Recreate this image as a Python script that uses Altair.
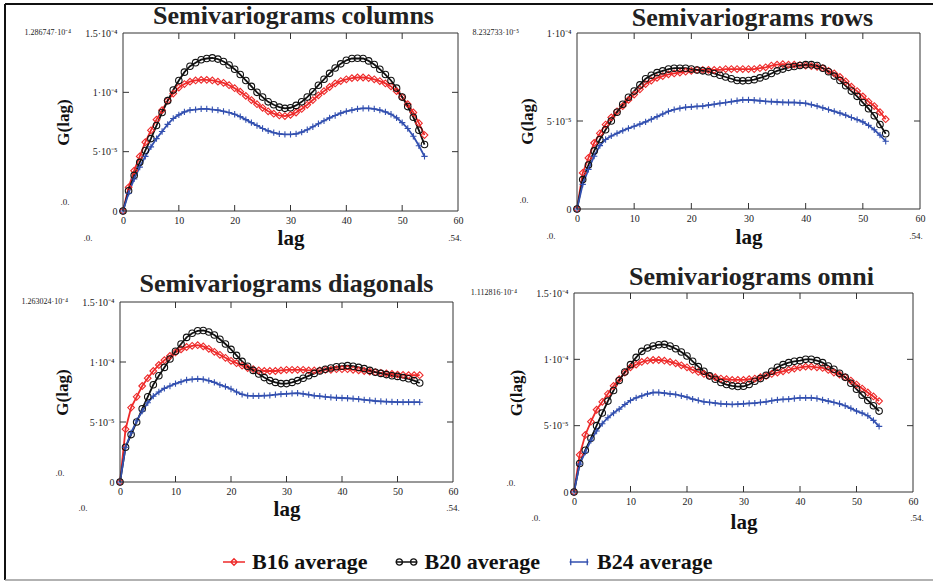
import altair as alt
import pandas as pd

SERIF = "Liberation Serif"
SERIES = ["B16 average", "B20 average", "B24 average"]
COLORS = ["#ee2a2a", "#111111", "#3350b0"]
LAGS = list(range(55))
X_LABEL_TICKS = [0, 10, 20, 30, 40, 50, 60]
X_INNER_TICKS = [10, 20, 30, 40, 50]

# values in units of 1e-5
COL_B16 = [0, 2.0, 3.4, 4.6, 5.8, 6.8, 7.7, 8.5, 9.3, 9.9, 10.4, 10.7, 10.9, 11.0, 11.05, 11.05, 11.0, 10.9, 10.8, 10.6,
           10.35, 10.05, 9.7, 9.35, 9.0, 8.7, 8.4, 8.2, 8.05, 8.0, 8.1, 8.3, 8.6, 8.95, 9.35, 9.75, 10.1, 10.45, 10.75, 10.95,
           11.1, 11.2, 11.25, 11.25, 11.2, 11.1, 10.95, 10.75, 10.5, 10.1, 9.6, 9.0, 8.3, 7.4, 6.4]
COL_B20 = [0, 1.7, 3.0, 4.1, 5.1, 6.1, 7.2, 8.3, 9.3, 10.2, 11.0, 11.7, 12.2, 12.5, 12.75, 12.85, 12.9, 12.8, 12.6, 12.3,
           11.95, 11.5, 11.0, 10.5, 10.0, 9.6, 9.2, 8.95, 8.75, 8.65, 8.7, 8.9, 9.2, 9.6, 10.05, 10.6, 11.1, 11.6, 12.05, 12.4,
           12.7, 12.85, 12.87, 12.85, 12.65, 12.35, 11.95, 11.5, 11.0, 10.35, 9.6, 8.8, 7.9, 6.8, 5.6]
COL_B24 = [0, 1.5, 2.7, 3.7, 4.6, 5.4, 6.1, 6.7, 7.3, 7.8, 8.1, 8.35, 8.5, 8.55, 8.6, 8.6, 8.55, 8.5, 8.4, 8.3,
           8.15, 7.95, 7.7, 7.45, 7.2, 6.95, 6.75, 6.6, 6.5, 6.45, 6.45, 6.5, 6.65, 6.85, 7.1, 7.35, 7.6, 7.85, 8.05, 8.25,
           8.4, 8.5, 8.6, 8.65, 8.65, 8.6, 8.5, 8.35, 8.15, 7.85, 7.45, 6.95, 6.3, 5.5, 4.6]

ROW_B16 = [0, 2.05, 2.9, 3.75, 4.3, 4.8, 5.2, 5.55, 5.85, 6.2, 6.5, 6.8, 7.1, 7.3, 7.45, 7.55, 7.65, 7.7, 7.75, 7.8,
           7.85, 7.9, 7.9, 7.9, 7.9, 7.9, 7.95, 7.95, 7.95, 7.95, 7.95, 7.95, 8.0, 8.05, 8.15, 8.2, 8.23, 8.2, 8.2, 8.18,
           8.15, 8.12, 8.08, 8.0, 7.85, 7.7, 7.5, 7.25, 6.95, 6.7, 6.4, 6.1, 5.85, 5.5, 5.1]
ROW_B20 = [0, 1.67, 2.5, 3.3, 3.95, 4.5, 5.0, 5.5, 5.95, 6.35, 6.7, 7.05, 7.4, 7.6, 7.75, 7.85, 7.95, 8.0, 8.0, 8.0,
           7.95, 7.9, 7.85, 7.8, 7.7, 7.6, 7.5, 7.4, 7.3, 7.28, 7.3, 7.35, 7.45, 7.55, 7.7, 7.85, 7.95, 8.05, 8.1, 8.15,
           8.2, 8.2, 8.15, 8.0, 7.8, 7.55, 7.3, 7.0, 6.7, 6.4, 6.05, 5.7, 5.3, 4.8, 4.28]
ROW_B24 = [0, 1.4, 2.25, 3.0, 3.6, 3.95, 4.15, 4.3, 4.45, 4.58, 4.7, 4.82, 4.95, 5.1, 5.25, 5.4, 5.55, 5.65, 5.72, 5.78,
           5.8, 5.83, 5.85, 5.9, 5.95, 6.0, 6.05, 6.1, 6.15, 6.2, 6.2, 6.18, 6.15, 6.12, 6.1, 6.08, 6.06, 6.05, 6.05, 6.03,
           6.0, 5.93, 5.85, 5.75, 5.65, 5.55, 5.45, 5.33, 5.2, 5.08, 4.95, 4.75, 4.5, 4.2, 3.85]

DIA_B16 = [0, 4.4, 6.2, 7.1, 8.0, 8.65, 9.25, 9.75, 10.15, 10.5, 10.8, 11.05, 11.25, 11.35, 11.4, 11.3, 11.1, 10.85, 10.6, 10.35,
           10.1, 9.9, 9.7, 9.5, 9.4, 9.3, 9.25, 9.25, 9.25, 9.3, 9.35, 9.35, 9.35, 9.35, 9.3, 9.3, 9.3, 9.35, 9.35, 9.4,
           9.4, 9.4, 9.35, 9.3, 9.25, 9.2, 9.15, 9.1, 9.05, 9.0, 8.95, 8.92, 8.9, 8.9, 8.9]
DIA_B20 = [0, 2.9, 3.95, 5.0, 6.1, 7.1, 8.1, 8.85, 9.55, 10.25, 10.9, 11.5, 12.05, 12.4, 12.6, 12.63, 12.5, 12.25, 11.9, 11.5,
           11.05, 10.55, 10.05, 9.65, 9.3, 9.0, 8.7, 8.45, 8.3, 8.2, 8.2, 8.3, 8.45, 8.65, 8.85, 9.05, 9.25, 9.4, 9.5, 9.6,
           9.65, 9.7, 9.65, 9.55, 9.45, 9.3, 9.15, 9.05, 8.95, 8.85, 8.8, 8.7, 8.6, 8.45, 8.25]
DIA_B24 = [0, 2.9, 4.1, 5.1, 5.9, 6.6, 7.15, 7.5, 7.8, 8.0, 8.2, 8.35, 8.5, 8.55, 8.6, 8.55, 8.45, 8.3, 8.1, 7.95,
           7.75, 7.5, 7.3, 7.2, 7.18, 7.18, 7.2, 7.22, 7.28, 7.32, 7.35, 7.38, 7.4, 7.35, 7.28, 7.2, 7.15, 7.1, 7.05, 7.02,
           7.0, 6.98, 6.95, 6.9, 6.85, 6.8, 6.75, 6.72, 6.7, 6.68, 6.66, 6.65, 6.65, 6.65, 6.65]

OMN_B16 = [0, 2.8, 4.3, 5.3, 6.2, 6.8, 7.4, 8.0, 8.5, 9.0, 9.4, 9.6, 9.8, 9.9, 9.95, 9.95, 9.9, 9.8, 9.7, 9.55,
           9.4, 9.2, 9.05, 8.9, 8.75, 8.65, 8.55, 8.5, 8.45, 8.45, 8.45, 8.5, 8.55, 8.65, 8.75, 8.9, 9.0, 9.1, 9.2, 9.3,
           9.4, 9.45, 9.45, 9.4, 9.35, 9.2, 9.0, 8.85, 8.65, 8.4, 8.1, 7.8, 7.5, 7.2, 6.85]
OMN_B20 = [0, 2.15, 3.15, 4.05, 5.0, 5.95, 6.85, 7.65, 8.4, 9.05, 9.6, 10.15, 10.6, 10.85, 11.0, 11.1, 11.13, 11.0, 10.8, 10.55,
           10.25, 9.85, 9.45, 9.1, 8.75, 8.5, 8.25, 8.1, 8.0, 7.95, 7.97, 8.1, 8.35, 8.55, 8.8, 9.1, 9.4, 9.6, 9.75, 9.85,
           9.9, 10.0, 10.0, 9.9, 9.75, 9.5, 9.25, 8.95, 8.65, 8.2, 7.75, 7.3, 6.9, 6.5, 6.1]
OMN_B24 = [0, 2.1, 3.0, 3.9, 4.6, 5.15, 5.6, 5.95, 6.25, 6.6, 6.9, 7.1, 7.25, 7.4, 7.5, 7.5, 7.45, 7.4, 7.35, 7.25,
           7.15, 7.0, 6.9, 6.8, 6.75, 6.7, 6.65, 6.62, 6.6, 6.62, 6.65, 6.68, 6.7, 6.75, 6.8, 6.88, 6.95, 6.98, 7.0, 7.05,
           7.1, 7.1, 7.1, 7.05, 6.95, 6.85, 6.75, 6.65, 6.5, 6.3, 6.1, 5.95, 5.75, 5.4, 4.95]

Y_TICKS_15 = [0, 5, 10, 15]
Y_TICKS_10 = [0, 5, 10]
Y_TICK_TEXT = {0: "0", 5: "5·10⁻⁵", 10: "1·10⁻⁴", 15: "1.5·10⁻⁴"}

TITLES = ["Semivariograms columns", "Semivariograms rows", "Semivariograms diagonals", "Semivariograms omni"]
MAX_TEXT = ["1.286747·10⁻⁴", "8.232733·10⁻⁵", "1.263024·10⁻⁴", "1.112816·10⁻⁴"]

PLUS = "M-1,0H1M0,-1V1"


def label_expr():
    parts = [f"datum.value == {k} ? '{v}'" for k, v in Y_TICK_TEXT.items()]
    return " : ".join(parts) + " : ''"


def txt(t, x, y, align="center", size=8, weight="normal", base="middle"):
    return alt.Chart(pd.DataFrame({"t": [t]})).mark_text(
        align=align, baseline=base, font=SERIF, fontSize=size, fontWeight=weight, color="#222"
    ).encode(text="t:N", x=alt.value(x), y=alt.value(y))


def panel(vals, W, H, ymax, yticks, title, maxtext, toff, tdx, ytx, xty, ann, ox=0, oy=0):
    rows = []
    for s, v in zip(SERIES, vals):
        for l, val in zip(LAGS, v):
            rows.append({"lag": l, "value": val, "series": s})
    df = pd.DataFrame(rows)
    xsc = alt.Scale(domain=[0, 60], nice=False, zero=False, range=[ox, W + ox])
    ysc = alt.Scale(domain=[0, ymax], nice=False, zero=False, range=[H + oy, oy])
    xaxis = alt.Axis(
        values=X_LABEL_TICKS, ticks=False, domain=False, grid=False, labelFont=SERIF, labelFontSize=10,
        labelColor="#222", labelPadding=4, labelFlush=False, labelOverlap=False, title="lag", titleFont=SERIF,
        titleFontSize=21, titleFontWeight="bold", titleColor="#111", titleX=ox + W / 2, titleY=xty,
        titleBaseline="middle", titleAlign="center")
    yaxis = alt.Axis(
        values=yticks, labelExpr=label_expr(), ticks=False, domain=False, grid=False, labelFont=SERIF,
        labelFontSize=10, labelColor="#222", labelPadding=6 - ox, labelFlush=False, labelOverlap=False,
        title="G(lag)", titleFont=SERIF, titleFontSize=17, titleFontWeight="bold", titleColor="#111",
        titleX=ox + ytx, titleY=oy + H / 2, titleAngle=270, titleBaseline="middle", titleAlign="center")
    x = alt.X("lag:Q", scale=xsc, axis=xaxis, title="lag")
    y = alt.Y("value:Q", scale=ysc, axis=yaxis, title="G(lag)")
    color = alt.Color("series:N", scale=alt.Scale(domain=SERIES, range=COLORS), legend=None)
    base = alt.Chart(df)
    line = base.mark_line(strokeWidth=1.8).encode(x=x, y=y, color=color)
    pts = base.mark_point(filled=False, strokeWidth=1.1, opacity=1).encode(
        x=x, y=y, color=color,
        shape=alt.Shape("series:N", scale=alt.Scale(domain=SERIES, range=["diamond", "circle", PLUS]), legend=None),
        size=alt.Size("series:N", scale=alt.Scale(domain=SERIES, range=[45, 40, 60]), legend=None))
    xt = pd.DataFrame({"t": X_INNER_TICKS})
    yt = pd.DataFrame({"t": [v for v in yticks if 0 < v < ymax]})
    rule = dict(color="#333", strokeWidth=1)
    L, R, T, B = ox, ox + W, oy, oy + H
    tx = alt.X("t:Q", scale=xsc, axis=xaxis, title="lag")
    ty = alt.Y("t:Q", scale=ysc, axis=yaxis, title="G(lag)")
    tb = alt.Chart(xt).mark_rule(**rule).encode(x=tx, y=alt.value(B), y2=alt.value(B - 6))
    tt = alt.Chart(xt).mark_rule(**rule).encode(x=tx, y=alt.value(T), y2=alt.value(T + 6))
    tl = alt.Chart(yt).mark_rule(**rule).encode(y=ty, x=alt.value(L), x2=alt.value(L + 6))
    tr = alt.Chart(yt).mark_rule(**rule).encode(y=ty, x=alt.value(R), x2=alt.value(R - 6))
    box = alt.Chart(pd.DataFrame({"b": [0]})).mark_rect(filled=False, stroke="#333", strokeWidth=1).encode(
        x=alt.value(L), x2=alt.value(R), y=alt.value(T), y2=alt.value(B))
    ttl = txt(title, L + W / 2 + tdx, T - toff, size=26, weight="bold", base="alphabetic")
    a1 = txt(maxtext, L + ann[0], T, align="right")
    a2 = txt(".0.", L + ann[1], B - 9, size=9)
    a3 = txt(".0.", L + ann[2], B + ann[4], size=9)
    a4 = txt(".54.", L + ann[3], B + ann[4], size=9)
    return alt.layer(line, pts, box, tb, tt, tl, tr, ttl, a1, a2, a3, a4).properties(width=W + ox, height=H + oy)


p_tl = panel([COL_B16, COL_B20, COL_B24], 335, 178, 15, Y_TICKS_15, TITLES[0], MAX_TEXT[0], 9, 3, -60, 27,
             (-52, -58, -35, 332, 27), ox=3)
p_tr = panel([ROW_B16, ROW_B20, ROW_B24], 343, 176, 10, Y_TICKS_10, TITLES[1], MAX_TEXT[1], 7, 4, -50, 28,
             (-58, -53, -26, 339, 27), ox=3)
p_bl = panel([DIA_B16, DIA_B20, DIA_B24], 333, 180, 15, Y_TICKS_15, TITLES[2], MAX_TEXT[2], 10, 0, -58, 27,
             (-52, -60, -37, 333, 26), oy=9)
p_br = panel([OMN_B16, OMN_B20, OMN_B24], 339, 199, 15, Y_TICKS_15, TITLES[3], MAX_TEXT[3], 8, 8, -58, 30,
             (-57, -63, -38, 343, 26))

LEGEND_PATHS = [
    "M-1,0H1M0,-0.3L0.3,0L0,0.3L-0.3,0Z",
    "M-1,0H1M-0.93,0a0.28,0.28 0 1,0 0.56,0a0.28,0.28 0 1,0 -0.56,0M0.37,0a0.28,0.28 0 1,0 0.56,0a0.28,0.28 0 1,0 -0.56,0",
    "M-0.85,0H0.85M-0.75,-0.3V0.3M0.75,-0.3V0.3",
]
LEG_W = 345
ldf = pd.DataFrame({"item": SERIES})
lx = alt.X("item:N", scale=alt.Scale(type="point", padding=0, domain=SERIES), axis=None)
lcol = alt.Color("item:N", scale=alt.Scale(domain=SERIES, range=COLORS), legend=None)
lsym = alt.Chart(ldf).mark_point(filled=False, strokeWidth=1.3, size=484, opacity=1).encode(
    x=lx, xOffset=alt.value(114), y=alt.value(-12), color=lcol,
    shape=alt.Shape("item:N", scale=alt.Scale(domain=SERIES, range=LEGEND_PATHS), legend=None))
ltxt = alt.Chart(ldf).mark_text(align="left", baseline="middle", dx=18, font=SERIF, fontSize=22,
                                fontWeight="bold", color="#111").encode(
    x=lx, xOffset=alt.value(114), y=alt.value(-12), text="item:N")
one = pd.DataFrame({"a": [0]})
f_left = alt.Chart(one).mark_rule(color="#111", strokeWidth=2).encode(x=alt.value(-115), y=alt.value(-570), y2=alt.value(6))
f_top = alt.Chart(one).mark_rule(color="#111", strokeWidth=2).encode(x=alt.value(-115), x2=alt.value(813), y=alt.value(-570))
f_bot = alt.Chart(one).mark_rule(color="#999", strokeWidth=1.5).encode(x=alt.value(-115), x2=alt.value(813), y=alt.value(6))
legend = alt.layer(lsym, ltxt, f_left, f_top, f_bot).properties(width=LEG_W, height=1)

chart = alt.concat(
    p_tl, p_tr, p_bl, p_br, legend, columns=2, bounds="flush", align="each",
    spacing={"row": 82, "column": 109}
).resolve_scale(
    color="independent", shape="independent", size="independent"
).properties(padding={"left": 4, "top": 3, "right": 0, "bottom": 0}).configure_view(strokeWidth=0)

chart.save("out.html", embed_options={"renderer": "svg", "actions": False})
